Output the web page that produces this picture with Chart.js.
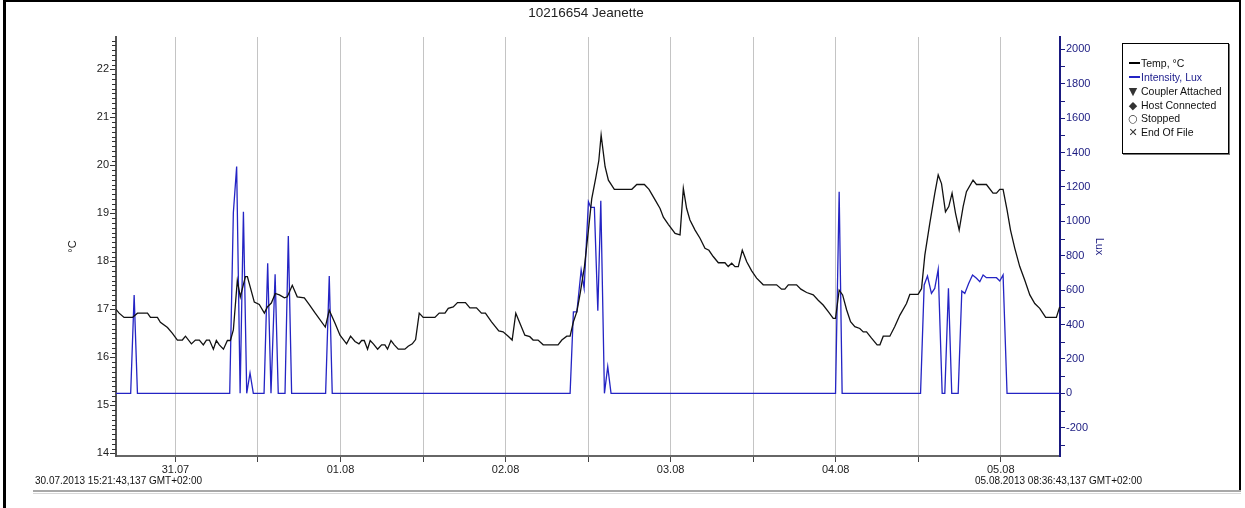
<!DOCTYPE html>
<html>
<head>
<meta charset="utf-8">
<script src="https://cdn.jsdelivr.net/npm/chart.js@4.4.0/dist/chart.umd.min.js"></script>
<style>
html,body{margin:0;padding:0;background:#fff;}
#wrap{position:relative;width:1245px;height:508px;overflow:hidden;font-family:"Liberation Sans",Arial,sans-serif;background:#fff;}
#c{position:absolute;left:0;top:0;}
#frameL{position:absolute;left:3px;top:0;width:3px;height:508px;background:#000;}
#frameT{position:absolute;left:3px;top:0;width:1238px;height:2px;background:#000;}
#frameR{position:absolute;left:1239px;top:0;width:2px;height:490px;background:#000;}
#frameB{position:absolute;left:33px;top:490px;width:1208px;height:2px;background:#a8a8a8;}
#frameB2{position:absolute;left:33px;top:493px;width:1208px;height:1px;background:#d8d8d8;}
#legend{position:absolute;left:1122px;top:43px;width:105px;height:109px;border:1px solid #000;box-shadow:1px 1px 0 #777;background:#fff;font-size:10.5px;color:#111;}
#legend .row{position:absolute;left:0;height:13px;line-height:13px;white-space:nowrap;}
#legend .ln{display:inline-block;width:11px;height:0;border-top:2px solid #000;vertical-align:middle;margin:0 1px 0 6px;position:relative;top:-1px;}
#legend .sym{display:inline-block;width:10px;text-align:center;margin:0 3px 0 5px;font-family:"DejaVu Sans",sans-serif;font-size:11px;color:#333;}
.foot{position:absolute;font-size:10px;color:#111;white-space:nowrap;}
</style>
</head>
<body>
<div id="wrap">
<canvas id="c" width="1245" height="508"></canvas>
<div id="frameL"></div><div id="frameT"></div><div id="frameR"></div><div id="frameB"></div><div id="frameB2"></div>
<div id="legend">
  <div class="row" style="top:13px"><span class="ln"></span>Temp, °C</div>
  <div class="row" style="top:27px;color:#1c1c8c"><span class="ln" style="border-color:#2424c4"></span>Intensity, Lux</div>
  <div class="row" style="top:41px"><span class="sym">▼</span>Coupler Attached</div>
  <div class="row" style="top:55px"><span class="sym">◆</span>Host Connected</div>
  <div class="row" style="top:68px"><span class="sym">○</span>Stopped</div>
  <div class="row" style="top:82px"><span class="sym">✕</span>End Of File</div>
</div>
<div class="foot" style="left:35px;top:475px">30.07.2013 15:21:43,137 GMT+02:00</div>
<div class="foot" style="left:975px;top:475px">05.08.2013 08:36:43,137 GMT+02:00</div>
</div>
<script>
// time axis: days since 30.07.2013 00:00
const xStart = 0.64008;   // 30.07.2013 15:21:43
const xEnd = 6.35883;     // 05.08.2013 08:36:43
const xGridDays = [1,1.5,2,2.5,3,3.5,4,4.5,5,5.5,6];
const xTickDays = [1,2,3,4,5,6];
const xTickLabels = ['31.07','01.08','02.08','03.08','04.08','05.08'];
const leftTicks = [14,15,16,17,18,19,20,21,22];
const rightTicks = [-200,0,200,400,600,800,1000,1200,1400,1600,1800,2000];

const tempTimes = [
0.640,0.659,0.689,0.740,0.770,0.831,0.849,0.891,0.909,0.952,
0.982,1.012,1.042,1.061,1.097,1.121,1.145,1.169,1.188,1.206,
1.230,1.248,1.266,1.291,1.315,1.333,1.351,1.375,1.393,1.424,
1.436,1.478,1.508,1.539,1.557,1.581,1.605,1.630,1.660,1.678,
1.708,1.738,1.781,1.811,1.847,1.908,1.932,1.967,1.997,2.037,
2.061,2.088,2.112,2.128,2.144,2.164,2.180,2.199,2.225,2.249,
2.269,2.285,2.306,2.326,2.350,2.390,2.410,2.435,2.455,2.477,
2.501,2.572,2.598,2.633,2.653,2.683,2.709,2.757,2.784,2.824,
2.854,2.878,2.915,2.959,2.985,3.016,3.040,3.062,3.087,3.117,
3.147,3.167,3.197,3.228,3.318,3.341,3.371,3.391,3.411,3.432,
3.452,3.478,3.502,3.522,3.547,3.565,3.579,3.603,3.623,3.659,
3.765,3.795,3.841,3.869,3.906,3.936,3.956,3.986,4.027,4.057,
4.077,4.097,4.117,4.148,4.178,4.208,4.232,4.258,4.289,4.329,
4.349,4.370,4.390,4.410,4.434,4.461,4.491,4.521,4.561,4.642,
4.672,4.692,4.713,4.763,4.789,4.824,4.864,4.894,4.924,4.955,
4.985,4.999,5.021,5.042,5.066,5.090,5.116,5.146,5.167,5.187,
5.217,5.251,5.268,5.288,5.328,5.358,5.389,5.429,5.449,5.499,
5.520,5.540,5.570,5.600,5.621,5.641,5.665,5.685,5.705,5.726,
5.748,5.772,5.792,5.832,5.853,5.913,5.953,5.974,5.994,6.014,
6.038,6.059,6.085,6.115,6.145,6.176,6.206,6.236,6.272,6.337,
6.357];
const tempValues = [
17.0,16.92,16.83,16.83,16.92,16.92,16.83,16.83,16.73,16.62,
16.5,16.36,16.36,16.44,16.28,16.36,16.36,16.26,16.36,16.36,
16.17,16.35,16.26,16.17,16.35,16.35,16.57,17.6,17.26,17.68,
17.68,17.15,17.1,16.92,17.05,17.13,17.33,17.3,17.24,17.26,
17.5,17.26,17.24,17.1,16.92,16.63,16.98,16.71,16.46,16.28,
16.44,16.33,16.28,16.35,16.35,16.17,16.35,16.28,16.17,16.26,
16.26,16.17,16.35,16.26,16.17,16.17,16.23,16.28,16.37,16.92,
16.83,16.83,16.92,16.92,17.02,17.05,17.14,17.14,17.03,17.03,
16.92,16.92,16.74,16.55,16.53,16.44,16.36,16.92,16.71,16.46,
16.43,16.36,16.36,16.26,16.26,16.36,16.44,16.44,16.74,16.95,
17.33,17.89,18.65,19.3,19.75,20.1,20.63,19.97,19.69,19.5,
19.5,19.6,19.6,19.5,19.28,19.1,18.92,18.77,18.58,18.55,
19.52,19.1,18.86,18.65,18.48,18.27,18.23,18.1,17.97,17.97,
17.89,17.96,17.89,17.89,18.23,17.99,17.8,17.65,17.51,17.51,
17.42,17.42,17.51,17.51,17.42,17.35,17.3,17.19,17.09,16.95,
16.81,16.81,17.4,17.3,16.99,16.74,16.64,16.6,16.53,16.53,
16.4,16.26,16.26,16.44,16.44,16.64,16.88,17.12,17.31,17.31,
17.43,18.13,18.79,19.41,19.8,19.62,19.03,19.14,19.42,19.0,
18.65,19.14,19.45,19.69,19.6,19.6,19.42,19.42,19.5,19.5,
19.07,18.65,18.27,17.89,17.61,17.3,17.12,17.02,16.83,16.83,
17.05];

const lightTimes = [
0.640,0.729,0.750,0.770,1.329,1.351,1.371,1.392,1.412,1.432,
1.452,1.472,1.537,1.559,1.579,1.604,1.623,1.664,1.684,1.704,
1.910,1.932,1.950,3.391,3.411,3.432,3.458,3.476,3.502,3.516,
3.538,3.559,3.577,3.599,3.619,3.639,4.999,5.021,5.039,5.514,
5.536,5.556,5.580,5.600,5.621,5.645,5.661,5.683,5.703,5.742,
5.764,5.782,5.806,5.829,5.853,5.873,5.893,5.913,5.974,5.994,
6.014,6.038,6.357];
const lightValues = [
0,0,571,0,0,1050,1318,0,1056,0,
118,0,0,756,0,692,0,0,915,0,
0,682,0,0,474,474,717,610,1114,1081,
1081,480,1120,0,155,0,0,1172,0,0,
630,682,581,610,721,0,0,610,0,0,
595,581,640,688,669,649,688,672,672,653,
688,0,0];

const NAVY = '#1a1a80';
const FONT = '"Liberation Sans", Arial, sans-serif';

const minorTicks = {
  id: 'minorTicks',
  afterDraw(chart) {
    const ctx = chart.ctx;
    const ys = chart.scales.y, yr = chart.scales.y1;
    ctx.save();
    ctx.lineWidth = 1;
    ctx.strokeStyle = '#333';
    ctx.beginPath();
    for (let k = 140; k <= 226; k++) {
      if (k % 10 === 0) continue;
      const py = Math.round(ys.getPixelForValue(k / 10)) + 0.5;
      ctx.moveTo(ys.right - 4, py);
      ctx.lineTo(ys.right, py);
    }
    ctx.stroke();
    ctx.strokeStyle = NAVY;
    ctx.beginPath();
    for (let v = -300; v <= 1900; v += 200) {
      const py = Math.round(yr.getPixelForValue(v)) + 0.5;
      ctx.moveTo(yr.left, py);
      ctx.lineTo(yr.left + 5, py);
    }
    ctx.stroke();
    ctx.restore();
  }
};

const ctx = document.getElementById('c').getContext('2d');
new Chart(ctx, {
  type: 'line',
  data: {
    datasets: [
      {
        label: 'Temp, °C',
        data: tempTimes.map((t, i) => ({x: t, y: tempValues[i]})),
        borderColor: '#111',
        borderWidth: 1.3,
        pointRadius: 0,
        tension: 0,
        yAxisID: 'y'
      },
      {
        label: 'Intensity, Lux',
        data: lightTimes.map((t, i) => ({x: t, y: lightValues[i]})),
        borderColor: '#2424c4',
        borderWidth: 1.3,
        pointRadius: 0,
        tension: 0,
        yAxisID: 'y1'
      }
    ]
  },
  options: {
    responsive: false,
    animation: false,
    devicePixelRatio: 1,
    layout: {padding: {left: 62, right: 135, top: 0, bottom: 0}},
    plugins: {
      legend: {display: false},
      tooltip: {enabled: false},
      title: {
        display: true,
        text: '10216654 Jeanette',
        color: '#222',
        font: {family: FONT, size: 13.5, weight: 'normal'},
        padding: {top: 5, bottom: 15.8}
      }
    },
    scales: {
      x: {
        type: 'linear',
        min: xStart,
        max: xEnd,
        afterBuildTicks: s => { s.ticks = xGridDays.map(v => ({value: v})); },
        afterFit: s => { s.height = 52; },
        ticks: {
          autoSkip: false, maxRotation: 0, padding: 1, color: '#222',
          font: {family: FONT, size: 11},
          callback: (v) => { const i = xTickDays.indexOf(v); return i >= 0 ? xTickLabels[i] : ''; }
        },
        grid: {color: '#c4c4c4', lineWidth: 1, tickColor: '#444', tickLength: 6},
        border: {color: '#666', width: 2}
      },
      y: {
        type: 'linear',
        position: 'left',
        min: 13.944,
        max: 22.673,
        afterBuildTicks: s => { s.ticks = leftTicks.map(v => ({value: v})); },
        afterFit: s => { s.width = 54; },
        ticks: {autoSkip: false, padding: 1, color: '#222', font: {family: FONT, size: 11}, callback: v => String(v)},
        grid: {drawOnChartArea: false, tickColor: '#333', tickLength: 6},
        border: {color: '#555', width: 2},
        title: {display: true, text: '°C', color: '#222', font: {family: FONT, size: 11}, padding: {top: 4, bottom: 4}}
      },
      y1: {
        type: 'linear',
        position: 'right',
        min: -364.5,
        max: 2071.5,
        afterBuildTicks: s => { s.ticks = rightTicks.map(v => ({value: v})); },
        afterFit: s => { s.width = 50; },
        ticks: {autoSkip: false, padding: 1, color: NAVY, font: {family: FONT, size: 11}, callback: v => String(v)},
        grid: {drawOnChartArea: false, tickColor: NAVY, tickLength: 5},
        border: {color: NAVY, width: 2},
        title: {display: true, text: 'Lux', color: NAVY, font: {family: FONT, size: 11}, padding: {top: 4, bottom: 4}}
      }
    }
  },
  plugins: [minorTicks]
});
</script>
</body>
</html>
